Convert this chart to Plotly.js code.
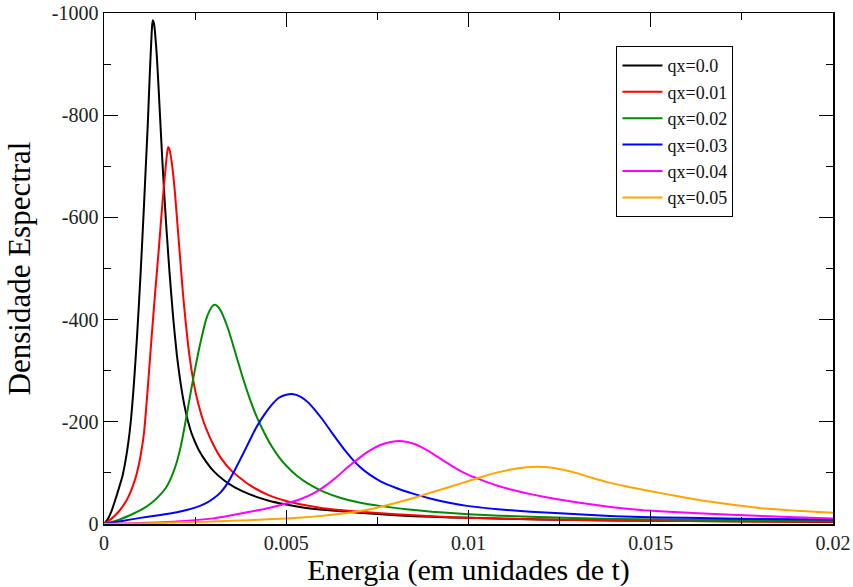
<!DOCTYPE html>
<html>
<head>
<meta charset="utf-8">
<script src="https://cdn.plot.ly/plotly-3.0.1.min.js"></script>
<style>
  html, body { margin: 0; padding: 0; background: #ffffff; }
  #plot { width: 853px; height: 587px; }
</style>
</head>
<body>
<div id="plot"></div>
<script>
// Spectral density curves for several momenta qx (energy in units of t)

const seriesNames = ["qx=0.0", "qx=0.01", "qx=0.02", "qx=0.03", "qx=0.04", "qx=0.05"];
const seriesColors = ["#000000", "#ff0000", "#008b00", "#0000ff", "#ff00ff", "#ffa500"];

const x_q00 = [0, 0.0001, 0.0002, 0.0003, 0.0004, 0.0005, 0.0006, 0.0007, 0.00075, 0.0008,
  0.00085, 0.0009, 0.00095, 0.0010, 0.00105, 0.0011, 0.00115, 0.0012, 0.00125, 0.0013,
  0.00132, 0.00134, 0.00137, 0.0014, 0.00145, 0.0015, 0.00155, 0.0016, 0.00165, 0.0017,
  0.00175, 0.0018, 0.0019, 0.0020, 0.0021, 0.0022, 0.0023, 0.0024, 0.0025, 0.0026,
  0.0028, 0.0030, 0.0033, 0.0036, 0.0040, 0.0045, 0.0050, 0.0055, 0.0060, 0.0070,
  0.0080, 0.0090, 0.010, 0.012, 0.014, 0.016, 0.018, 0.020];
const y_q00 = [0, -9, -24, -45, -68, -92, -128, -178, -212, -255,
  -305, -360, -420, -485, -555, -628, -705, -780, -870, -950,
  -975, -986, -980, -962, -915, -850, -780, -712, -650, -592,
  -540, -490, -402, -330, -276, -234, -202, -178, -160, -145,
  -122, -104, -85, -71, -58, -46, -38, -32, -28, -22,
  -17, -14, -12, -9, -7, -6, -5, -4];

const x_q01 = [0, 0.0002, 0.0004, 0.0006, 0.0007, 0.0008, 0.0009, 0.0010, 0.0011, 0.0012,
  0.0013, 0.0014, 0.0015, 0.0016, 0.0017, 0.00173, 0.00176, 0.0018, 0.00185, 0.0019,
  0.00195, 0.0020, 0.00205, 0.0021, 0.00215, 0.0022, 0.0023, 0.0024, 0.0025, 0.0026,
  0.0027, 0.0028, 0.0030, 0.0032, 0.0035, 0.0040, 0.0045, 0.0050, 0.0055, 0.0060,
  0.0070, 0.0080, 0.0090, 0.010, 0.012, 0.014, 0.016, 0.018, 0.020];
const y_q01 = [0, -10, -24, -44, -58, -76, -99, -132, -180, -265,
  -360, -450, -535, -625, -705, -725, -738, -732, -712, -683,
  -645, -600, -555, -510, -465, -425, -355, -302, -262, -232,
  -207, -187, -155, -130, -104, -76, -57, -45, -37, -31,
  -24, -19, -15, -12, -9, -7, -6, -5, -4.5];

const x_q02 = [0, 0.0004, 0.0008, 0.0011, 0.0013, 0.0015, 0.0017, 0.0018, 0.0019, 0.0020,
  0.0021, 0.0022, 0.0023, 0.0024, 0.0025, 0.0026, 0.0027, 0.0028, 0.0029, 0.0030,
  0.00305, 0.0031, 0.0032, 0.0033, 0.0034, 0.0035, 0.0036, 0.0037, 0.0038, 0.0040,
  0.0042, 0.0044, 0.0046, 0.0048, 0.0050, 0.0053, 0.0056, 0.0060, 0.0065, 0.0070,
  0.0076, 0.0083, 0.0090, 0.0100, 0.0117, 0.0140, 0.0170, 0.0200];
const y_q02 = [0, -8, -20, -31, -41, -54, -71, -84, -101, -122,
  -150, -186, -226, -266, -304, -340, -372, -400, -418, -428,
  -429, -427, -418, -402, -383, -360, -336, -312, -288, -245,
  -208, -178, -152, -131, -114, -94, -79, -64, -51, -42,
  -35, -29, -24, -19, -14, -10, -8, -7];

const x_q03 = [0, 0.0005, 0.0010, 0.0015, 0.0020, 0.0025, 0.0028, 0.0030, 0.0032, 0.0034,
  0.0036, 0.0038, 0.0040, 0.0042, 0.0044, 0.0046, 0.0048, 0.0050, 0.0052, 0.0054,
  0.0056, 0.0058, 0.0060, 0.0062, 0.0064, 0.0066, 0.0068, 0.0070, 0.0073, 0.0076,
  0.0080, 0.0085, 0.0090, 0.0095, 0.0100, 0.0108, 0.0117, 0.0125, 0.0135, 0.0145,
  0.0160, 0.0180, 0.0200];
const y_q03 = [0, -6, -12, -17, -23, -32, -41, -50, -62, -81,
  -107, -135, -164, -192, -214, -233, -247, -253, -254, -249,
  -238, -222, -204, -184, -164, -145, -128, -113, -96, -83,
  -71, -59, -49, -41, -35, -29, -24, -21, -17, -14,
  -12, -10, -9];

const x_q04 = [0, 0.001, 0.002, 0.003, 0.0035, 0.0040, 0.0045, 0.0050, 0.0054, 0.0058,
  0.0061, 0.0064, 0.0067, 0.0070, 0.0073, 0.0076, 0.0079, 0.0082, 0.0085, 0.0088,
  0.0091, 0.0094, 0.0097, 0.0100, 0.0104, 0.0108, 0.0113, 0.0118, 0.0124, 0.0130,
  0.0136, 0.0142, 0.0148, 0.0155, 0.0163, 0.0172, 0.0186, 0.0200];
const y_q04 = [0, -2, -5, -11, -17, -24, -31, -40, -49, -62,
  -76, -93, -112, -129, -144, -155, -161, -162, -157, -147,
  -134, -120, -107, -96, -85, -75, -65, -57, -49, -42,
  -36, -31, -27, -24, -21, -18, -14, -11];

const x_q05 = [0, 0.001, 0.002, 0.003, 0.004, 0.005, 0.0055, 0.006, 0.0065, 0.0070,
  0.0075, 0.0080, 0.0085, 0.0090, 0.0095, 0.0100, 0.0104, 0.0108, 0.0112, 0.0116,
  0.0119, 0.0122, 0.0126, 0.0130, 0.0134, 0.0138, 0.0143, 0.0150, 0.0157, 0.0164,
  0.0172, 0.0180, 0.0190, 0.0200];
const y_q05 = [0, -1, -3, -5, -7.5, -11, -13, -16, -20, -25,
  -32, -41, -51, -62, -73, -84, -93, -101, -107, -111,
  -112, -111, -106, -99, -90, -82, -74, -64, -55, -46,
  -38, -31, -26, -22];

const xData = [x_q00, x_q01, x_q02, x_q03, x_q04, x_q05];
const yData = [y_q00, y_q01, y_q02, y_q03, y_q04, y_q05];

const xTickVals = [0, 0.005, 0.01, 0.015, 0.02];
const xTickText = ["0", "0.005", "0.01", "0.015", "0.02"];
const yTickVals = [0, -200, -400, -600, -800, -1000];
const yTickText = ["0", "-200", "-400", "-600", "-800", "-1000"];

const serif = "Liberation Serif, Times New Roman, serif";

const traces = seriesNames.map((name, i) => ({
  type: "scatter",
  mode: "lines",
  name: name,
  x: xData[i],
  y: yData[i],
  line: { color: seriesColors[i], width: 2, shape: "spline", smoothing: 0.5 }
}));

const layout = {
  width: 853,
  height: 587,
  margin: { l: 104, r: 20, t: 13, b: 63 },
  paper_bgcolor: "#ffffff",
  plot_bgcolor: "#ffffff",
  showlegend: true,
  legend: {
    x: 0.703, y: 0.935, xanchor: "left", yanchor: "top",
    bgcolor: "#ffffff",
    bordercolor: "#000000",
    borderwidth: 1,
    font: { family: serif, size: 18, color: "#111111" },
    itemwidth: 40,
    tracegroupgap: 0
  },
  xaxis: {
    range: [0, 0.02],
    tickvals: xTickVals,
    ticktext: xTickText,
    ticks: "inside",
    ticklen: 14,
    tickwidth: 1,
    tickcolor: "#000000",
    minor: { ticks: "inside", ticklen: 7, tickwidth: 1, tickcolor: "#000000", dtick: 0.0025 },
    showline: true,
    linecolor: "#000000",
    linewidth: 1.5,
    mirror: "ticks",
    showgrid: false,
    zeroline: false,
    tickfont: { family: serif, size: 20, color: "#222222" },
    title: { text: "Energia (em unidades de t)", font: { family: serif, size: 30, color: "#000000" }, standoff: 4 }
  },
  yaxis: {
    range: [0, -1000],
    tickvals: yTickVals,
    ticktext: yTickText,
    ticks: "inside",
    ticklen: 14,
    tickwidth: 1,
    tickcolor: "#000000",
    minor: { ticks: "inside", ticklen: 7, tickwidth: 1, tickcolor: "#000000", dtick: 100 },
    showline: true,
    linecolor: "#000000",
    linewidth: 1.5,
    mirror: "ticks",
    showgrid: false,
    zeroline: false,
    tickfont: { family: serif, size: 20, color: "#222222" },
    title: { text: "Densidade Espectral", font: { family: serif, size: 31, color: "#000000" }, standoff: 12 }
  }
};

Plotly.newPlot("plot", traces, layout, { displayModeBar: false, staticPlot: true });
</script>
</body>
</html>
